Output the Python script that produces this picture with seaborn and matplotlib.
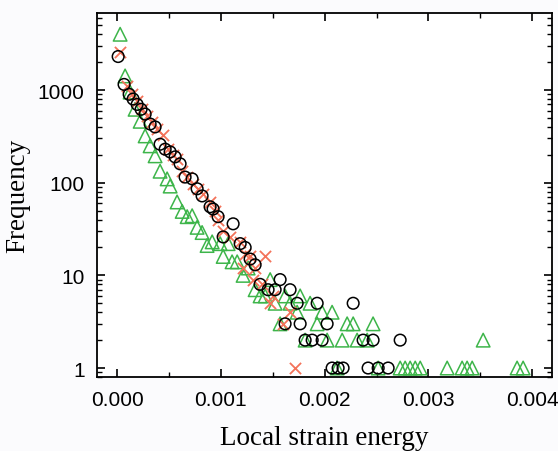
import numpy as np
import pandas as pd
import seaborn as sns
import matplotlib.pyplot as plt
from matplotlib.ticker import MultipleLocator, LogLocator, FixedLocator, FixedFormatter, NullFormatter

# black open circles
circ_x = [0.00001, 0.000067, 0.000116, 0.000154, 0.000193, 0.000231, 0.00027, 0.000318,
          0.000366, 0.000414, 0.000463, 0.000511, 0.000559, 0.000607, 0.000655, 0.000723,
          0.000771, 0.000819, 0.000896, 0.000925, 0.000973, 0.001022, 0.001118, 0.001186,
          0.001234, 0.001282, 0.00133, 0.001378, 0.001455, 0.001523, 0.001571, 0.001619,
          0.001667, 0.001735, 0.001764, 0.001812, 0.00188, 0.001928, 0.001976, 0.002024,
          0.002072, 0.00213, 0.002178, 0.002275, 0.002371, 0.002419, 0.002467, 0.002516,
          0.002612, 0.002728]
circ_y = [2300, 1150, 900, 800, 700, 620, 550, 430,
          400, 260, 230, 215, 190, 160, 115, 110,
          86, 72, 55, 52, 43, 26, 36, 22,
          20, 15, 13, 8, 7, 7, 9, 3,
          7, 5, 3, 2, 2, 5, 2, 3,
          1, 1, 1, 5, 2, 1, 2, 1,
          1, 2]

# red crosses
cross_x = [0.000029, 0.000096, 0.000145, 0.000193, 0.000241, 0.000289, 0.000337, 0.000386,
           0.000443, 0.000492, 0.00054, 0.000578, 0.000627, 0.000675, 0.000733, 0.000781,
           0.000829, 0.000896, 0.000945, 0.000973, 0.001022, 0.001089, 0.001186, 0.001234,
           0.001282, 0.00133, 0.001427, 0.001215, 0.001311, 0.001398, 0.001475, 0.001504,
           0.001600, 0.001667, 0.001716]
cross_y = [2600, 1100, 900, 760, 620, 530, 450, 380,
           330, 230, 200, 180, 133, 115, 97, 85,
           75, 62, 49, 40, 30, 26, 23, 17,
           16, 12, 16, 12, 9, 8, 5, 6,
           3, 4, 1]

# green open triangles
tri_x = [0.000029, 0.000077, 0.000125, 0.000173, 0.000222, 0.00027, 0.000318, 0.000366,
         0.000414, 0.000482, 0.000511, 0.000578, 0.000627, 0.000675, 0.000723, 0.000771,
         0.000819, 0.000867, 0.000916, 0.000993, 0.001022, 0.00107, 0.001108, 0.001157,
         0.001214, 0.001263, 0.00133, 0.001378, 0.001427, 0.001475, 0.001523, 0.001571,
         0.001619, 0.001667, 0.001735, 0.001764, 0.001812, 0.00186, 0.001928, 0.001976,
         0.002024, 0.002072, 0.00212, 0.002169, 0.002217, 0.002275, 0.002313, 0.00241,
         0.002467, 0.002516, 0.002728, 0.002776, 0.002824, 0.002873, 0.002921, 0.003181,
         0.003325, 0.003373, 0.003422, 0.003528, 0.003855, 0.003913]
tri_y = [4000, 1420, 950, 620, 460, 320, 250, 195,
         133, 110, 92, 62, 49, 43, 44, 33,
         29, 21, 23, 22, 16, 22, 14, 14,
         10, 12, 7, 6, 6, 9, 5, 3,
         6, 5, 4, 6, 2, 5, 3, 4,
         2, 4, 1, 2, 3, 3, 2, 2,
         3, 1, 1, 1, 1, 1, 1, 1,
         1, 1, 1, 2, 1, 1]

circles = pd.DataFrame({"energy": circ_x, "freq": circ_y})
crosses = pd.DataFrame({"energy": cross_x, "freq": cross_y})
triangles = pd.DataFrame({"energy": tri_x, "freq": tri_y})

sns.set_style("ticks")
plt.rcParams["font.family"] = ["Liberation Sans", "DejaVu Sans"]

fig = plt.figure(figsize=(5.58, 4.52), dpi=100, facecolor="#fbfbfd")
ax = fig.add_axes([0.174, 0.1637, 0.815, 0.805])
ax.set_facecolor("white")

green = "#3db54a"
red = "#f3735a"

sns.scatterplot(data=triangles, x="energy", y="freq", marker="^", s=95,
                facecolor="none", edgecolor=green, linewidth=1.1, ax=ax)
sns.scatterplot(data=crosses, x="energy", y="freq", marker="x", s=65,
                color=red, linewidth=1.3, ax=ax)
sns.scatterplot(data=circles, x="energy", y="freq", marker="o", s=70,
                facecolor="none", edgecolor="black", linewidth=1.1, ax=ax)

ax.set_yscale("log")
ax.set_xlim(-0.000193, 0.00419)
ax.set_ylim(0.8, 6760)

ax.xaxis.set_major_locator(MultipleLocator(0.001))
ax.xaxis.set_minor_locator(MultipleLocator(0.0005))
ax.xaxis.set_major_formatter(plt.FuncFormatter(lambda v, p: f"{v:.3f}"))
ax.yaxis.set_major_locator(FixedLocator([1, 10, 100, 1000]))
ax.yaxis.set_major_formatter(FixedFormatter(["1", "10", "100", "1000"]))
ax.yaxis.set_minor_locator(LogLocator(base=10, subs=np.arange(2, 10)))
ax.yaxis.set_minor_formatter(NullFormatter())

ax.tick_params(which="both", direction="in", top=True, right=True, color="black",
               labelcolor="black")
ax.tick_params(which="major", length=6, width=1.2, labelsize=15, pad=9)
ax.tick_params(which="minor", length=3.5, width=1.0)
for sp in ax.spines.values():
    sp.set_linewidth(1.3)
    sp.set_color("black")

ax.set_xlabel("Local strain energy", family=["Liberation Serif"], fontsize=19.5,
              labelpad=12, color="black")
ax.set_ylabel("Frequency", family=["Liberation Serif"], fontsize=19.5,
              labelpad=5, color="black")

fig.savefig("out.png", dpi=100, facecolor=fig.get_facecolor())
